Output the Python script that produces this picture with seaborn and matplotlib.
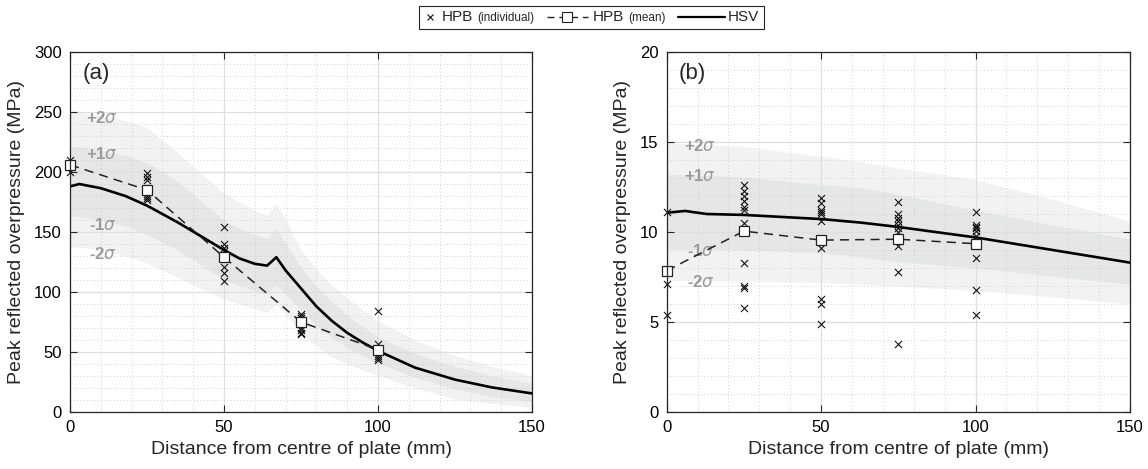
import numpy as np
import pandas as pd
import seaborn as sns
import matplotlib
matplotlib.use('Agg')
import matplotlib.pyplot as plt
from matplotlib.lines import Line2D
from matplotlib.ticker import MultipleLocator
from matplotlib.offsetbox import AnchoredOffsetbox, HPacker, TextArea, DrawingArea

# test positions (mm from centre of plate)
dist = [0, 25, 50, 75, 100]

# (a) HPB individual gauges and mean (MPa)
a_individual = [
    [210, 200],
    [199, 196, 193, 180, 178, 177],
    [154, 140, 137, 134, 121, 116, 109],
    [82, 80, 78, 70, 68, 66, 65],
    [84, 57, 47, 45, 43],
]
a_mean = [206, 185, 129, 75, 52]

# (a) HSV prediction with +/- 1 and 2 sigma bands
a_x = [0, 3, 10, 18, 25, 35, 50, 55, 60, 64, 67, 70, 75, 80, 85, 90, 95, 100, 112, 125, 137, 150]
a_hsv = [188, 190, 186.5, 180, 172, 158, 135, 128, 123.5, 122, 129, 118, 103, 88, 76, 66, 58, 51, 37, 27, 20.5, 15.5]
a_p2 = [250, 250, 247, 243, 237, 216, 182, 175, 168, 164, 173.5, 160, 135, 119, 106, 95, 85, 76, 60, 47, 38, 30.6]
a_p1 = [221, 221, 218, 214, 208, 192, 160, 153, 148, 144.5, 153, 140, 121, 105, 92, 81, 71, 62.5, 49, 38, 30.5, 24]
a_m1 = [163, 163, 160, 155, 148, 135, 110, 105, 101, 98, 106, 98, 85, 72, 62, 54, 47, 40.5, 29, 19, 13, 8.4]
a_m2 = [137.5, 137.5, 135, 130, 124, 112, 94, 90, 86, 83, 90, 82, 65.5, 55, 46, 40, 35, 30.6, 20, 11, 7, 3.9]

# (b) HPB individual gauges and mean (MPa)
b_individual = [
    [11.1, 7.1, 5.4],
    [12.6, 12.3, 12.0, 11.7, 11.4, 11.25, 10.5, 8.3, 7.0, 6.9, 5.8],
    [11.9, 11.6, 11.2, 11.1, 11.0, 10.6, 9.1, 6.3, 6.0, 4.9],
    [11.65, 11.0, 10.8, 10.6, 10.4, 10.2, 10.0, 9.25, 7.76, 3.78],
    [11.1, 10.4, 10.3, 10.2, 10.05, 9.8, 8.57, 6.8, 5.4],
]
b_mean = [7.85, 10.05, 9.55, 9.6, 9.35]

# (b) HSV prediction with bands
b_x = [0, 6, 13, 25, 50, 63, 75, 100, 125, 150]
b_hsv = [11.07, 11.17, 11.0, 10.95, 10.72, 10.52, 10.28, 9.7, 9.0, 8.3]
b_p2 = [14.96, 14.92, 14.85, 14.75, 14.2, 13.9, 13.55, 12.9, 11.8, 10.6]
b_p1 = [13.2, 13.18, 13.15, 13.05, 12.65, 12.45, 12.1, 11.2, 10.4, 9.6]
b_m1 = [9.05, 9.05, 9.03, 9.0, 8.85, 8.6, 8.35, 8.0, 7.55, 7.1]
b_m2 = [7.3, 7.3, 7.29, 7.27, 7.2, 7.1, 7.0, 6.75, 6.4, 6.0]

sigma_labels = [r'+2$\sigma$', r'+1$\sigma$', r'-1$\sigma$', r'-2$\sigma$']

sns.set_style('ticks')
plt.rcParams['font.family'] = ['Liberation Sans', 'DejaVu Sans']
plt.rcParams['mathtext.fontset'] = 'dejavusans'


def draw_panel(ax, individual, mean, x, hsv, p2, p1, m1, m2, ylim, ystep, yminor,
               tag, lab_y):
    ax.set_axisbelow('line')
    ax.fill_between(x, m2, p2, color='#f2f2f2', lw=0, zorder=1)
    ax.fill_between(x, m1, p1, color='#e5e7e7', lw=0, zorder=1.1)

    ind = pd.DataFrame({'x': [d for d, v in zip(dist, individual) for _ in v],
                        'y': [y for v in individual for y in v]})
    sns.lineplot(x=x, y=hsv, ax=ax, color='k', lw=1.9, sort=False,
                 estimator=None, zorder=3)
    sns.scatterplot(data=ind, x='x', y='y', ax=ax, marker='x', color='#111111',
                    s=26, linewidth=0.8, zorder=4, clip_on=False)
    sns.lineplot(x=dist, y=mean, ax=ax, color='#222222', lw=1.1,
                 linestyle=(0, (6, 4)), marker='s', markersize=7.5,
                 markerfacecolor='white', markeredgecolor='#222222',
                 markeredgewidth=0.9, estimator=None, zorder=5, clip_on=False)

    for lab, (lx, ly) in zip(sigma_labels, lab_y):
        ax.text(lx, ly, lab, ha='center', va='center', color='#9a9a9a',
                fontsize=12, fontweight='bold', zorder=2)
    ax.text(4.0, ylim * 0.94, tag, ha='left', va='center', fontsize=16)

    ax.set_xlim(0, 150)
    ax.set_ylim(0, ylim)
    ax.xaxis.set_major_locator(MultipleLocator(50))
    ax.xaxis.set_minor_locator(MultipleLocator(10))
    ax.yaxis.set_major_locator(MultipleLocator(ystep))
    ax.yaxis.set_minor_locator(MultipleLocator(yminor))
    ax.grid(which='major', color='#dedede', lw=0.9, ls='-')
    ax.grid(which='minor', color='#c4c4c4', lw=0.6, ls=(0, (1, 3)))
    ax.tick_params(which='major', direction='in', length=5, width=0.8,
                   top=True, right=True, labelsize=12, pad=6, colors='#262626',
                   labelcolor='black')
    ax.tick_params(which='minor', length=0)
    for sp in ax.spines.values():
        sp.set_visible(True)
        sp.set_color('#262626')
        sp.set_linewidth(0.9)
        sp.set_zorder(6)
    ax.set_xlabel('Distance from centre of plate (mm)', fontsize=14, labelpad=4)
    ax.set_ylabel('Peak reflected overpressure (MPa)', fontsize=14, labelpad=6)


fig = plt.figure(figsize=(11.48, 4.69), dpi=100)
ax_a = fig.add_axes([0.061, 0.1215, 0.4024, 0.7676])
ax_b = fig.add_axes([0.5807, 0.1215, 0.4036, 0.7676])

draw_panel(ax_a, a_individual, a_mean, a_x, a_hsv, a_p2, a_p1, a_m1, a_m2,
           300, 50, 10, '(a)',
           [(10.3, 245), (10.3, 215), (10.7, 156), (10.7, 132)])
draw_panel(ax_b, b_individual, b_mean, b_x, b_hsv, b_p2, b_p1, b_m1, b_m2,
           20, 5, 1, '(b)',
           [(10.8, 14.8), (10.8, 13.1), (11.0, 8.95), (11.0, 7.25)])


# shared legend at the top, small text for the qualifiers
def handle(width, artists):
    da = DrawingArea(width, 8, 0, 0)
    for a in artists:
        da.add_artist(a)
    return da


h_ind = handle(10, [Line2D([5], [4], marker='x', ls='none', color='#111111',
                           markersize=5, markeredgewidth=0.8)])
h_mean = handle(30, [Line2D([0, 30], [4, 4], ls=(0, (5, 3.5)), color='#222222', lw=1.0),
                     Line2D([15], [4], marker='s', ls='none', markersize=6.5,
                            markerfacecolor='white', markeredgecolor='#222222',
                            markeredgewidth=0.8)])
h_hsv = handle(34, [Line2D([0, 34], [4, 4], color='k', lw=1.6)])

big = dict(fontsize=11, family=['Liberation Sans', 'DejaVu Sans'])
small = dict(fontsize=8.5, family=['Liberation Sans', 'DejaVu Sans'])


def label(main, sub=None):
    kids = [TextArea(main, textprops=big)]
    if sub:
        kids.append(TextArea(sub, textprops=small))
    return HPacker(children=kids, sep=3, align='baseline', pad=0)


items = [HPacker(children=[h_ind, label('HPB', '(individual)')], sep=3, align='center', pad=0),
         HPacker(children=[h_mean, label('HPB', '(mean)')], sep=3, align='center', pad=0),
         HPacker(children=[h_hsv, label('HSV')], sep=2, align='center', pad=0)]
box = HPacker(children=items, sep=9, align='center', pad=0)
anch = AnchoredOffsetbox(loc='upper center', child=box, pad=0.35, borderpad=0,
                         frameon=True, bbox_to_anchor=(0.515, 0.988),
                         bbox_transform=fig.transFigure)
anch.patch.set_edgecolor('#262626')
anch.patch.set_linewidth(0.8)
anch.patch.set_boxstyle('square', pad=0)
fig.add_artist(anch)

fig.savefig('out.png', dpi=100)
